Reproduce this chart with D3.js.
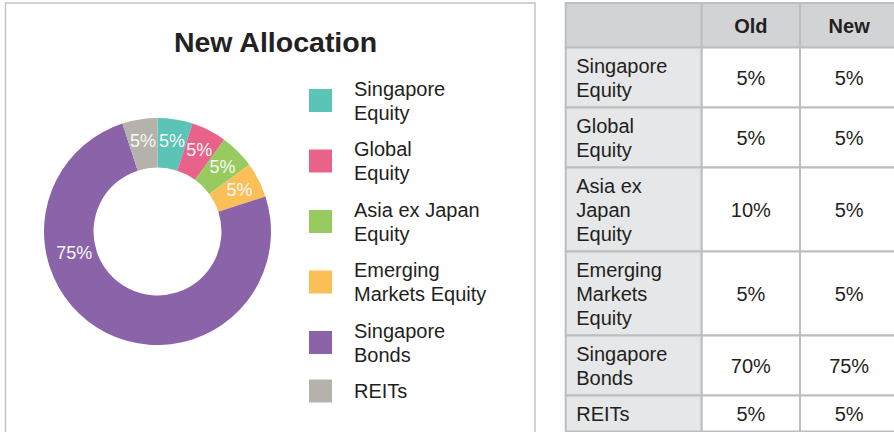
<!DOCTYPE html>
<html>
<head>
<meta charset="utf-8">
<script src="https://cdn.jsdelivr.net/npm/d3@7"></script>
<style>
  body { margin: 0; background: #fff; }
  svg { display: block; font-family: "Liberation Sans", Arial, sans-serif; }
</style>
</head>
<body>
<div id="graph"></div>
<script>
// data
const categories = ["Singapore Equity", "Global Equity", "Asia ex Japan Equity", "Emerging Markets Equity", "Singapore Bonds", "REITs"];
const legendLines = [["Singapore", "Equity"], ["Global", "Equity"], ["Asia ex Japan", "Equity"], ["Emerging", "Markets Equity"], ["Singapore", "Bonds"], ["REITs"]];
const tableLines = [["Singapore", "Equity"], ["Global", "Equity"], ["Asia ex", "Japan", "Equity"], ["Emerging", "Markets", "Equity"], ["Singapore", "Bonds"], ["REITs"]];
const oldAlloc = [5, 5, 10, 5, 70, 5];
const newAlloc = [5, 5, 5, 5, 75, 5];
const tableHeaders = ["", "Old", "New"];
const colors = ["#5bc4b6", "#e8628a", "#97cb5f", "#fbbf58", "#8b63a9", "#b4b2aa"];
const title = "New Allocation";

const W = 894, H = 432;
const lineH = 24;

const svg = d3.select("#graph").append("svg").attr("width", W).attr("height", H);

//left panel frame
svg.append("rect")
  .attr("x", 5.5).attr("y", 3)
  .attr("width", 529.5).attr("height", 460)
  .attr("fill", "none")
  .attr("stroke", "#c4c4c4")
  .attr("stroke-width", 1.5);

svg.append("text")
  .attr("x", 275.5).attr("y", 51.7)
  .attr("text-anchor", "middle")
  .attr("font-size", 28.5).attr("font-weight", "bold")
  .attr("fill", "#222")
  .text(title);

//donut
const cx = 157.5, cy = 231.5, rOut = 113.5, rIn = 64;
const pie = d3.pie().sort(null).value(d => d.v);
const arcs = pie(categories.map((c, i) => ({ c: c, v: newAlloc[i], i: i })));
const arc = d3.arc().innerRadius(rIn).outerRadius(rOut);

const donut = svg.append("g").attr("transform", "translate(" + cx + "," + cy + ")");
donut.selectAll("path")
  .data(arcs)
  .enter()
  .append("path")
  .attr("d", arc)
  .attr("fill", d => colors[d.data.i]);

// label angle: mid for small slices, pushed round for the big one
function labelPos(d) {
  const span = d.endAngle - d.startAngle;
  const a = span > Math.PI ? d.startAngle + 0.68 * span : d.startAngle + span / 2;
  const r = span > Math.PI ? 86 : 92;
  return [Math.sin(a) * r, -Math.cos(a) * r];
}
donut.selectAll("text")
  .data(arcs)
  .enter()
  .append("text")
  .attr("x", d => labelPos(d)[0])
  .attr("y", d => labelPos(d)[1] + 6.5)
  .attr("text-anchor", "middle")
  .attr("font-size", 18)
  .attr("fill", "#f7f7f7")
  .text(d => d.data.v + "%");

//legend
let legendY = [];
let yc = 100.5;
legendLines.forEach((l, i) => {
  if (i > 0) yc += (legendLines[i - 1].length * lineH + l.length * lineH) / 2 + 12.5;
  legendY.push(yc);
});
const legend = svg.append("g");
legend.selectAll("rect")
  .data(categories)
  .enter()
  .append("rect")
  .attr("x", 309).attr("y", (d, i) => legendY[i] - 11.5)
  .attr("width", 23).attr("height", 23)
  .attr("fill", (d, i) => colors[i]);
legend.selectAll("text")
  .data(legendLines)
  .enter()
  .append("text")
  .attr("font-size", 20)
  .attr("fill", "#231f20")
  .each(function (lines, i) {
    const top = legendY[i] - (lines.length - 1) * lineH / 2 + 7;
    d3.select(this).selectAll("tspan")
      .data(lines)
      .enter()
      .append("tspan")
      .attr("x", 354)
      .attr("y", (t, k) => top + k * lineH)
      .text(t => t);
  });

//table
const colX = [565.7, 701.7, 800, 898.3];
const headH = 44.5;
let rowY = [3, 3 + headH];
tableLines.forEach(l => rowY.push(rowY[rowY.length - 1] + l.length * lineH + 12));

const table = svg.append("g");
const border = "#bdbec0";

// header cells
table.selectAll("rect.head")
  .data(tableHeaders)
  .enter()
  .append("rect")
  .attr("class", "head")
  .attr("x", (d, i) => colX[i]).attr("y", rowY[0])
  .attr("width", (d, i) => colX[i + 1] - colX[i]).attr("height", headH)
  .attr("fill", "#d2d3d5")
  .attr("stroke", border).attr("stroke-width", 2);
table.selectAll("text.head")
  .data(tableHeaders)
  .enter()
  .append("text")
  .attr("class", "head")
  .attr("x", (d, i) => (colX[i] + colX[i + 1]) / 2)
  .attr("y", rowY[0] + headH / 2 + 7.5)
  .attr("text-anchor", "middle")
  .attr("font-size", 20).attr("font-weight", "bold")
  .attr("fill", "#231f20")
  .text(d => d);

// body rows
const rows = table.selectAll("g.row")
  .data(tableLines)
  .enter()
  .append("g")
  .attr("class", "row");

rows.each(function (lines, i) {
  const g = d3.select(this);
  const y0 = rowY[i + 1], y1 = rowY[i + 2], mid = (y0 + y1) / 2;
  const cells = [null, oldAlloc[i], newAlloc[i]];
  cells.forEach((v, c) => {
    g.append("rect")
      .attr("x", colX[c]).attr("y", y0)
      .attr("width", colX[c + 1] - colX[c]).attr("height", y1 - y0)
      .attr("fill", c === 0 ? "#e6e7e8" : "#fff")
      .attr("stroke", border).attr("stroke-width", 2);
  });
  g.append("text")
    .attr("font-size", 20).attr("fill", "#231f20")
    .selectAll("tspan")
    .data(lines)
    .enter()
    .append("tspan")
    .attr("x", colX[0] + 10.5)
    .attr("y", (t, k) => mid - (lines.length - 1) * lineH / 2 + 7.5 + k * lineH)
    .text(t => t);
  [oldAlloc[i], newAlloc[i]].forEach((v, c) => {
    g.append("text")
      .attr("x", (colX[c + 1] + colX[c + 2]) / 2)
      .attr("y", mid + 7)
      .attr("text-anchor", "middle")
      .attr("font-size", 20).attr("fill", "#231f20")
      .text(v + "%");
  });
});
</script>
</body>
</html>
